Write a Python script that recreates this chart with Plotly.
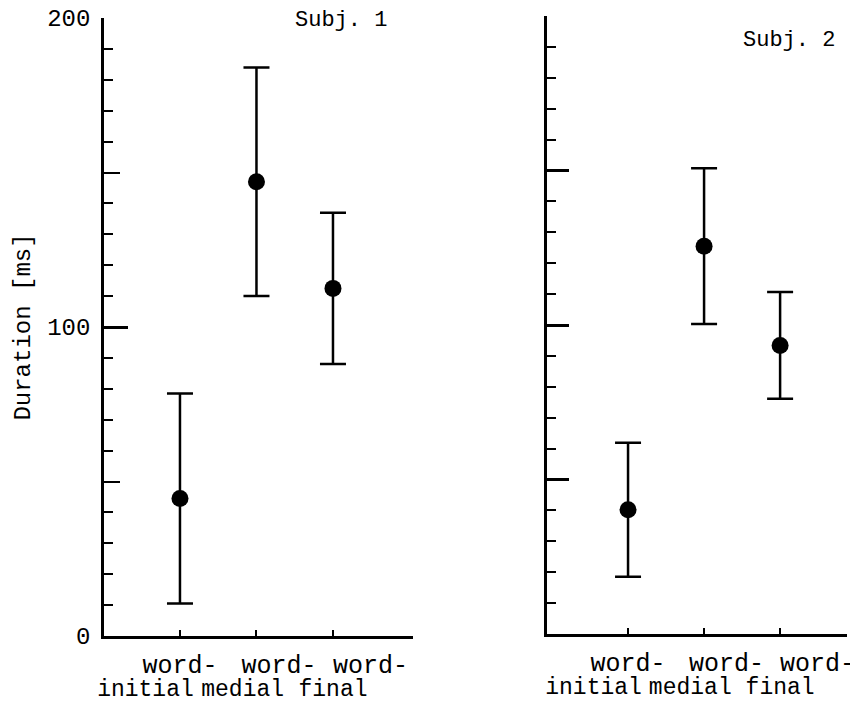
import plotly.graph_objects as go

NB = "\u00a0"
# ---- data ----
label_line1 = ["word-", "word-", "word-"]
label_line2 = ["initial", "medial", "final"]
subj1_mean = [44.5, 147.0, 112.5]
subj1_sd = [34.0, 37.0, 24.5]
subj2_mean = [40.2, 125.5, 93.4]
subj2_sd = [21.7, 25.2, 17.3]
panel_titles = ["Subj. 1", "Subj. 2"]
ytick_vals = [0, 100, 200]
ytick_text = ["0", "100", "200"]
y_title = "Duration [ms]"

# typewriter-style label block: leading pad on line 1, trailing pad on line 2
pad1 = [0, 3, 5]
pad2 = [5, 2, 0]
text1 = [NB * a + w for a, w in zip(pad1, label_line1)]
text2 = [c + NB * b for b, c in zip(pad2, label_line2)]

FONT = "Liberation Mono"
W, H = 858, 702
OFF = 8  # page body margin

def px_x(p):
    return (p - OFF) / W

def px_y(p):
    return 1 - (p - OFF) / H

fig = go.Figure()

xpos = [0, 1, 2]

fig.add_trace(go.Scatter(
    x=xpos, y=subj1_mean, mode="markers", xaxis="x", yaxis="y",
    marker=dict(color="black", size=17),
    error_y=dict(type="data", array=subj1_sd, color="black", thickness=2.5, width=13),
    showlegend=False, cliponaxis=False))
fig.add_trace(go.Scatter(
    x=xpos, y=subj2_mean, mode="markers", xaxis="x2", yaxis="y2",
    marker=dict(color="black", size=17),
    error_y=dict(type="data", array=subj2_sd, color="black", thickness=2.5, width=13),
    showlegend=False, cliponaxis=False))
# empty traces for the overlay axes
fig.add_trace(go.Scatter(x=[], y=[], xaxis="x", yaxis="y3", showlegend=False))
fig.add_trace(go.Scatter(x=[], y=[], xaxis="x3", yaxis="y", showlegend=False))
fig.add_trace(go.Scatter(x=[], y=[], xaxis="x4", yaxis="y2", showlegend=False))

font1 = dict(family=FONT, size=25, color="black")
font2 = dict(family=FONT, size=23, color="black")

dom1 = [px_x(104), px_x(413)]
rng1 = [-0.993, 3.046]
dom2 = [px_x(547), px_x(847)]
rng2 = [-1.066, 2.88]

main_x = dict(showgrid=False, zeroline=False, automargin=False,
              showline=True, linecolor="black", linewidth=2.5,
              tickmode="array", tickvals=xpos, ticktext=text1, tickangle=0,
              ticks="inside", ticklen=6, tickwidth=2, tickcolor="black",
              ticklabelstandoff=4, ticklabeloverflow="allow", tickfont=font1)
sub_x = dict(showgrid=False, zeroline=False, automargin=False, showline=False,
             tickmode="array", tickvals=xpos, ticktext=text2, tickangle=0,
             ticks="", ticklabelstandoff=36, ticklabeloverflow="allow",
             tickfont=font2, side="bottom")

fig.update_layout(
    width=W, height=H,
    margin=dict(l=0, r=0, t=0, b=0, autoexpand=False),
    paper_bgcolor="white", plot_bgcolor="white",
    font=dict(family=FONT, color="black"),
    xaxis=dict(domain=dom1, range=rng1, anchor="y", **main_x),
    xaxis3=dict(overlaying="x", range=rng1, anchor="y", **sub_x),
    xaxis2=dict(domain=dom2, range=rng2, anchor="y2", **main_x),
    xaxis4=dict(overlaying="x2", range=rng2, anchor="y2", **sub_x),
    yaxis=dict(
        domain=[px_y(636), px_y(18)], range=[0, 200],
        anchor="x", showgrid=False, zeroline=False, automargin=False,
        showline=True, linecolor="black", linewidth=2.5,
        tickmode="array", tickvals=ytick_vals, ticktext=ytick_text,
        ticks="inside", ticklen=24, tickwidth=2.5, tickcolor="black",
        ticklabelstandoff=6, ticklabeloverflow="allow",
        tickfont=dict(family=FONT, size=24, color="black"),
        minor=dict(dtick=10, ticks="inside", ticklen=9, tickwidth=2, tickcolor="black"),
        title=dict(text=y_title, font=dict(family=FONT, size=24, color="black"), standoff=10)),
    yaxis3=dict(
        overlaying="y", anchor="x", range=[0, 200], automargin=False,
        showgrid=False, zeroline=False, showline=False,
        tickmode="array", tickvals=[50, 150], showticklabels=False,
        ticks="inside", ticklen=16, tickwidth=2, tickcolor="black"),
    yaxis2=dict(
        domain=[px_y(634), px_y(16)], range=[0, 200],
        anchor="x2", showgrid=False, zeroline=False, automargin=False,
        showline=True, linecolor="black", linewidth=2.5,
        tickmode="array", tickvals=[0, 50, 100, 150, 200], showticklabels=False,
        ticks="inside", ticklen=22, tickwidth=2.5, tickcolor="black",
        minor=dict(dtick=10, ticks="inside", ticklen=9, tickwidth=2, tickcolor="black")),
    annotations=[
        dict(text=panel_titles[0], xref="paper", yref="paper",
             x=px_x(341), y=px_y(21), xanchor="center", yanchor="middle",
             showarrow=False, font=dict(family=FONT, size=22, color="black")),
        dict(text=panel_titles[1], xref="paper", yref="paper",
             x=px_x(789), y=px_y(40), xanchor="center", yanchor="middle",
             showarrow=False, font=dict(family=FONT, size=22, color="black")),
    ],
)

fig.write_html("out.html")
